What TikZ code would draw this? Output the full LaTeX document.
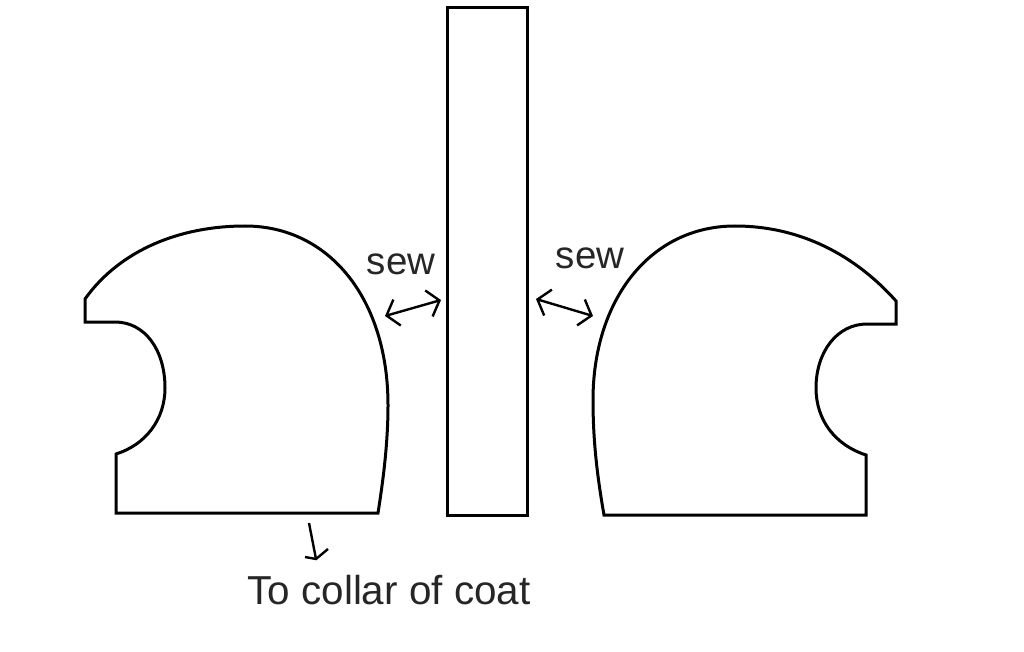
\documentclass[tikz,border=0pt]{standalone}
\usepackage{fontspec}
\setmainfont{Liberation Sans}
\usetikzlibrary{arrows.meta}
\tikzset{
  outline/.style={line width=3pt,black,line join=miter},
  panelbar/.style={draw,line width=3pt,black,minimum width=80pt,minimum height=507pt,inner sep=0pt,outer sep=0pt},
  lbl/.style={font=\fontsize{38.5}{40}\selectfont,text=black!85,inner sep=0pt,anchor=base},
  lblwide/.style={font=\fontsize{40.4}{42}\selectfont,text=black!85,inner sep=0pt,anchor=base},
  handarrow/.style={line width=2.4pt,black,{Straight Barb[length=11pt,width=27pt,line width=2.4pt]}-{Straight Barb[length=11pt,width=27pt,line width=2.4pt]}},
  thin stroke/.style={line width=2.4pt,black}
}
\begin{document}
\begin{tikzpicture}[x=1pt,y=-1pt]
\useasboundingbox (0,0) rectangle (1024,652);
\fill[white] (0,0) rectangle (1024,652);
% left piece
\draw[outline] (85,299) -- (85,322) -- (115,322)
  .. controls (145,322) and (165,350) .. (165,388)
  .. controls (165,420) and (145,445) .. (116,454)
  -- (116,513) -- (378,513)
  .. controls (384,475) and (388,440) .. (388,405)
  .. controls (388,300) and (330,226) .. (245,226)
  .. controls (180,226) and (120,250) .. (85,299) -- cycle;
% right piece
\draw[outline] (896,301) -- (896,324) -- (867,324)
  .. controls (837,324) and (816,352) .. (816,388)
  .. controls (816,420) and (835,445) .. (866,455)
  -- (866,515) -- (604,515)
  .. controls (597,475) and (593,440) .. (593,400)
  .. controls (593,300) and (650,226) .. (735,226)
  .. controls (800,226) and (855,255) .. (896,301) -- cycle;
% central strip
\node[panelbar] (strip) at (487,261.5) {};
% labels
\node[lbl] (sewL) at (401,274) {sew};
\node[lbl] (sewR) at (590,268) {sew};
\node[lblwide] (collar) at (389,604) {To collar of coat};
% connectors
\coordinate (aL) at (385,316);
\coordinate (bL) at (441,300);
\coordinate (aR) at (536,299);
\coordinate (bR) at (593,316);
\draw[handarrow] (aL) -- (bL);
\draw[handarrow] (aR) -- (bR);
\coordinate (dTop) at (309,523);
\coordinate (dEnd) at (316,559);
\coordinate (dB1) at (305,557);
\coordinate (dB2) at (328,549);
\draw[thin stroke] (dTop) -- (dEnd);
\draw[thin stroke] (dB1) -- (dEnd) -- (dB2);
\end{tikzpicture}
\end{document}
